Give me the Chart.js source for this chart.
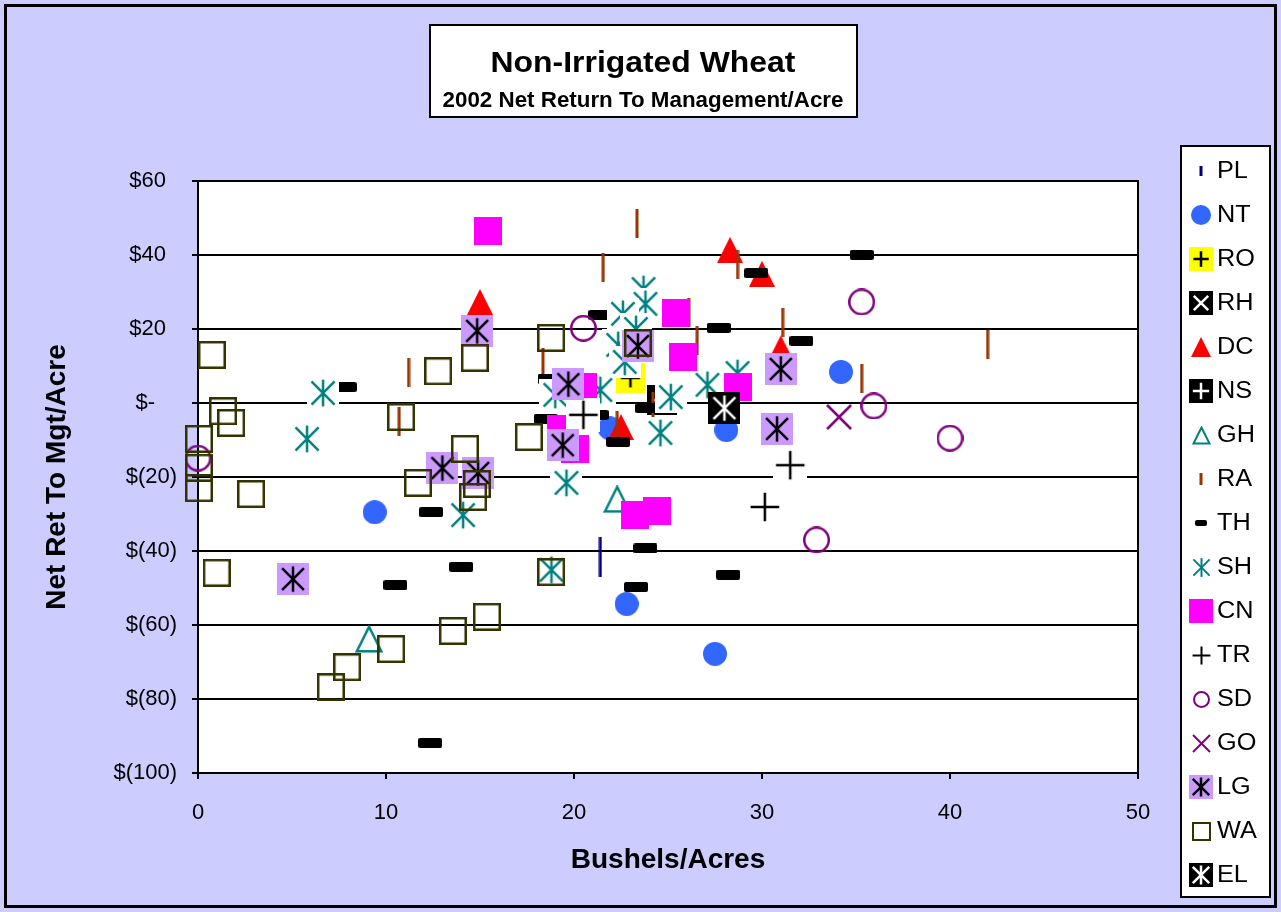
<!DOCTYPE html>
<html>
<head>
<meta charset="utf-8">
<script src="https://cdn.jsdelivr.net/npm/chart.js@4.4.0/dist/chart.umd.min.js"></script>
<style>
  html, body { margin: 0; padding: 0; background: #fff; }
  canvas { display: block; }
</style>
</head>
<body>
<canvas id="chart" width="1281" height="912"></canvas>
<script>
'use strict';

/* ── data (bushels/acre, net return $/acre) ── */
const PL = [[21.4, -41.6]];
const NT = [[9.4, -29.5], [22.8, -54.3], [27.5, -67.8], [34.2, 8.4], [28.1, -7.3], [21.9, -6.8]];
const RO = [[23.0, 6.8]];
const RH = [[28.0, -1.4]];
const DC = [[15.0, 27.3], [28.3, 41.4], [30.0, 34.9], [31.0, 14.8], [22.5, -6.5]];
const NS = [[24.7, 0.8]];
const GH = [[9.1, -63.8], [22.3, -26.0]];
const RA = [[11.2, 8.3], [10.7, -4.9], [23.35, 48.4], [21.55, 36.6], [28.7, 37.5], [26.1, 24.5], [26.55, 16.9],
            [31.1, 21.8], [18.35, 11.0], [22.3, -6.0], [24.2, -1.0], [35.3, 6.5], [42.0, 15.7]];
const TH = [[7.8, 4.3], [12.4, -29.5], [14.0, -44.3], [10.5, -49.2], [12.35, -91.9], [23.8, -39.3], [23.3, -49.7],
            [28.2, -46.4], [35.3, 40.0], [29.7, 35.1], [27.7, 20.3], [32.1, 16.8], [21.4, 23.8], [18.7, 6.5],
            [18.5, -4.3], [22.35, -10.5], [23.9, -1.4], [21.2, -3.2]];
const SH = [[6.65, 2.7], [5.8, -9.7], [14.1, -30.3], [19.6, -21.6], [18.8, -45.1], [23.7, 30.8], [23.8, 26.8],
            [22.6, 24.1], [22.35, 15.7], [23.3, 20.0], [22.7, 11.1], [21.4, 3.5], [25.15, 1.6], [24.6, -8.1],
            [27.1, 4.9], [28.7, 8.1], [19.0, 2.2]];
const CN = [[15.4, 46.5], [25.4, 24.3], [25.8, 12.4], [28.7, 4.3], [20.5, 4.3], [19.3, -7.0], [20.05, -12.4],
            [23.25, -30.3], [24.4, -29.2]];
const TR = [[30.15, -28.1], [31.5, -16.8], [20.5, -3.2]];
const SD = [[0, -14.9], [20.5, 20.2], [35.3, 27.3], [35.95, -0.8], [40.0, -9.5], [32.9, -37.0]];
const GO = [[34.1, -3.8]];
const LG = [[14.85, 19.5], [13.0, -17.6], [14.9, -18.9], [5.05, -47.6], [23.4, 15.4], [19.7, 5.1], [19.4, -11.4],
            [31.0, 9.2], [30.8, -7.0]];
const WA = [[0.74, 13.0], [1.33, -2.2], [1.76, -5.4], [0.05, -9.7], [0.05, -17.5], [0.05, -23.0], [2.82, -24.6],
            [12.77, 8.6], [14.73, 12.2], [10.8, -3.8], [14.2, -12.4], [11.7, -21.6], [14.84, -21.9], [14.63, -25.4],
            [1.0, -45.9], [7.93, -71.4], [7.07, -76.8], [10.27, -66.5], [13.56, -61.6], [15.37, -57.8],
            [18.78, 17.6], [17.6, -9.2], [23.4, 16.2], [18.78, -45.7]];
const EL = [[28.0, -1.4]];

const SERIES_NAMES = ['PL', 'NT', 'RO', 'RH', 'DC', 'NS', 'GH', 'RA', 'TH', 'SH', 'CN', 'TR', 'SD', 'GO', 'LG', 'WA', 'EL'];
const SERIES_DATA  = [PL, NT, RO, RH, DC, NS, GH, RA, TH, SH, CN, TR, SD, GO, LG, WA, EL];

const X_TICKS = [0, 10, 20, 30, 40, 50];
const Y_TICKS = [60, 40, 20, 0, -20, -40, -60, -80, -100];

/* ── marker sizes: plot / legend ── */
const PLOT_SIZE   = { PL: 40, NT: 24, RO: 30, RH: 32, DC: 26, NS: 30, GH: 28, RA: 29, TH: 24, SH: 32, CN: 28, TR: 34, SD: 27, GO: 26, LG: 32, WA: 28, EL: 32 };
const LEGEND_SIZE = { PL: 10, NT: 20, RO: 24, RH: 24, DC: 20, NS: 24, GH: 19, RA: 12, TH: 12, SH: 19, CN: 24, TR: 19, SD: 17, GO: 19, LG: 24, WA: 19, EL: 24 };

const FONT = 'Liberation Sans, Arial, sans-serif';

function plus(g, cx, cy, r, color) {
    g.strokeStyle = color;
    g.beginPath();
    g.moveTo(cx - r, cy); g.lineTo(cx + r, cy);
    g.moveTo(cx, cy - r); g.lineTo(cx, cy + r);
    g.stroke();
}
function cross(g, cx, cy, r, color) {
    g.strokeStyle = color;
    g.beginPath();
    g.moveTo(cx - r, cy - r); g.lineTo(cx + r, cy + r);
    g.moveTo(cx + r, cy - r); g.lineTo(cx - r, cy + r);
    g.stroke();
}
function star(g, cx, cy, r, color) {
    cross(g, cx, cy, r * 0.95, color);
    g.beginPath();
    g.moveTo(cx, cy - r * 1.1); g.lineTo(cx, cy + r * 1.1);
    g.stroke();
}

function makeMarker(kind, s, legend) {
    const c = document.createElement('canvas');
    let w = s, h = s;
    if (kind === 'PL' || kind === 'RA') w = 4;
    if (kind === 'TH') h = Math.max(6, Math.round(s * 0.42));
    c.width = w; c.height = h;
    const g = c.getContext('2d');
    const m = s / 2;
    g.lineWidth = s < 22 ? 2 : 2.5;
    g.lineCap = 'butt';
    switch (kind) {
        case 'PL': g.fillStyle = '#000080'; g.fillRect(0.5, 0, 3, h); break;
        case 'RA': g.fillStyle = '#993300'; g.fillRect(0.5, 0, 3, h); break;
        case 'NT':
            g.fillStyle = '#3366FF';
            g.beginPath(); g.arc(m, m, m, 0, Math.PI * 2); g.fill(); break;
        case 'RO':
            g.fillStyle = '#FFFF00'; g.fillRect(0, 0, s, s);
            plus(g, m, m, s * 0.32, '#000'); break;
        case 'RH':
            g.fillStyle = '#000'; g.fillRect(0, 0, s, s);
            cross(g, m, m, s * 0.3, '#fff'); break;
        case 'NS':
            g.fillStyle = '#000'; g.fillRect(0, 0, s, s);
            plus(g, m, m, s * 0.34, '#fff'); break;
        case 'EL':
            g.fillStyle = '#000'; g.fillRect(0, 0, s, s);
            star(g, m, m, s * 0.36, '#fff'); break;
        case 'LG':
            g.fillStyle = '#CC99FF'; g.fillRect(0, 0, s, s);
            star(g, m, m, s * 0.36, '#000'); break;
        case 'DC':
            g.fillStyle = '#FF0000';
            g.beginPath(); g.moveTo(m, 0); g.lineTo(s, s); g.lineTo(0, s); g.closePath(); g.fill(); break;
        case 'GH': {
            const p = g.lineWidth / 2 + 0.5;
            g.strokeStyle = '#008080';
            g.beginPath(); g.moveTo(m, p); g.lineTo(s - p, s - p); g.lineTo(p, s - p); g.closePath(); g.stroke();
            break;
        }
        case 'TH':
            g.fillStyle = '#000';
            g.beginPath(); g.roundRect(0, 0, w, h, 2); g.fill(); break;
        case 'SH':
            if (!legend) { g.fillStyle = '#fff'; g.fillRect(0, 0, s, s); }
            star(g, m, m, s * (legend ? 0.45 : 0.38), '#008080'); break;
        case 'CN': g.fillStyle = '#FF00FF'; g.fillRect(0, 0, s, s); break;
        case 'TR':
            if (!legend) { g.fillStyle = '#fff'; g.fillRect(0, 0, s, s); }
            plus(g, m, m, s * (legend ? 0.47 : 0.42), '#000'); break;
        case 'SD':
            g.strokeStyle = '#800080';
            g.beginPath(); g.arc(m, m, m - g.lineWidth / 2, 0, Math.PI * 2); g.stroke(); break;
        case 'GO': cross(g, m, m, m - 1, '#800080'); break;
        case 'WA': {
            const p = g.lineWidth / 2;
            g.strokeStyle = '#333300'; g.strokeRect(p, p, s - 2 * p, s - 2 * p); break;
        }
    }
    return c;
}

const plotMarkers   = SERIES_NAMES.map(n => makeMarker(n, PLOT_SIZE[n], false));
const legendMarkers = SERIES_NAMES.map(n => makeMarker(n, LEGEND_SIZE[n], true));

const datasets = SERIES_NAMES.map((name, i) => ({
    label: name,
    data: SERIES_DATA[i].map(([x, y]) => ({ x, y })),
    pointStyle: plotMarkers[i],
    pointRadius: 6,
    clip: false,
    order: -i          // Excel: later series on top
}));

/* ── frame, plot box, title box and legend ── */
const decor = {
    id: 'decor',
    beforeDraw(chart) {
        const { ctx, width, height, chartArea: a } = chart;
        ctx.save();
        ctx.fillStyle = '#CCCCFF';
        ctx.fillRect(0, 0, width, height);
        ctx.lineWidth = 3;
        ctx.strokeStyle = '#000';
        ctx.strokeRect(5.5, 5.5, width - 11, height - 11);
        ctx.fillStyle = '#fff';
        ctx.fillRect(a.left, a.top, a.right - a.left, a.bottom - a.top);
        ctx.restore();
    },
    beforeDatasetsDraw(chart) {
        const { ctx, chartArea: a } = chart;
        ctx.save();
        ctx.lineWidth = 2;
        ctx.strokeStyle = '#000';
        ctx.strokeRect(a.left, a.top, a.right - a.left, a.bottom - a.top);
        ctx.restore();
    },
    afterDraw(chart) {
        const { ctx } = chart;
        ctx.save();
        // title box
        ctx.fillStyle = '#fff';
        ctx.fillRect(430, 25, 427, 92);
        ctx.lineWidth = 2;
        ctx.strokeStyle = '#000';
        ctx.strokeRect(430, 25, 427, 92);
        ctx.fillStyle = '#000';
        ctx.textAlign = 'center';
        ctx.textBaseline = 'alphabetic';
        ctx.save();
        ctx.translate(643, 72);
        ctx.scale(1.1, 1);
        ctx.font = 'bold 29px ' + FONT;
        ctx.fillText('Non-Irrigated Wheat', 0, 0);
        ctx.restore();
        ctx.save();
        ctx.translate(643, 107);
        ctx.scale(1.04, 1);
        ctx.font = 'bold 21.5px ' + FONT;
        ctx.fillText('2002 Net Return To Management/Acre', 0, 0);
        ctx.restore();

        // legend box
        ctx.fillStyle = '#fff';
        ctx.fillRect(1181, 146, 89, 751);
        ctx.strokeRect(1181, 146, 89, 751);
        ctx.fillStyle = '#000';
        ctx.textAlign = 'left';
        ctx.textBaseline = 'middle';
        ctx.font = '23px ' + FONT;
        SERIES_NAMES.forEach((name, i) => {
            const y = 171 + 44 * i;
            const mk = legendMarkers[i];
            ctx.drawImage(mk, Math.round(1201 - mk.width / 2), Math.round(y - mk.height / 2));
            ctx.save();
            ctx.translate(1217, y + 1);
            ctx.scale(1.1, 1);
            ctx.fillText(name, 0, 0);
            ctx.restore();
        });
        ctx.restore();
    }
};

function money(v) {
    if (v === 0) return '$-\u2002\u2002';
    if (v < 0) return '$(' + (-v) + ')';
    return '$' + v + '\u2002';
}

new Chart(document.getElementById('chart'), {
    type: 'scatter',
    data: { datasets },
    options: {
        responsive: false,
        animation: false,
        events: [],
        layout: { padding: { top: 181, right: 143, left: 0, bottom: 0 } },
        plugins: { legend: { display: false }, tooltip: { enabled: false } },
        scales: {
            x: {
                type: 'linear', min: 0, max: 50,
                afterBuildTicks: s => { s.ticks = X_TICKS.map(v => ({ value: v })); },
                afterFit: s => { s.height = 139; },
                ticks: { color: '#000', font: { family: FONT, size: 22 }, padding: 21 },
                grid: { drawOnChartArea: false, color: '#000', tickColor: '#000', lineWidth: 2, tickLength: 6 },
                border: { color: '#000', width: 2 },
                title: { display: true, text: 'Bushels/Acres', color: '#000',
                         font: { family: FONT, size: 28, weight: 'bold' }, padding: { top: 0, bottom: 35 } }
            },
            y: {
                type: 'linear', min: -100, max: 60,
                afterBuildTicks: s => { s.ticks = Y_TICKS.map(v => ({ value: v })); },
                afterFit: s => { s.width = 198; },
                ticks: { color: '#000', font: { family: FONT, size: 22 }, padding: 15, callback: money },
                grid: { color: '#000', lineWidth: 2, tickLength: 6 },
                border: { color: '#000', width: 2 },
                title: { display: true, text: 'Net Ret To Mgt/Acre', color: '#000',
                         font: { family: FONT, size: 28, weight: 'bold' }, padding: { top: 40, bottom: 0 } }
            }
        }
    },
    plugins: [decor]
});
</script>
</body>
</html>
